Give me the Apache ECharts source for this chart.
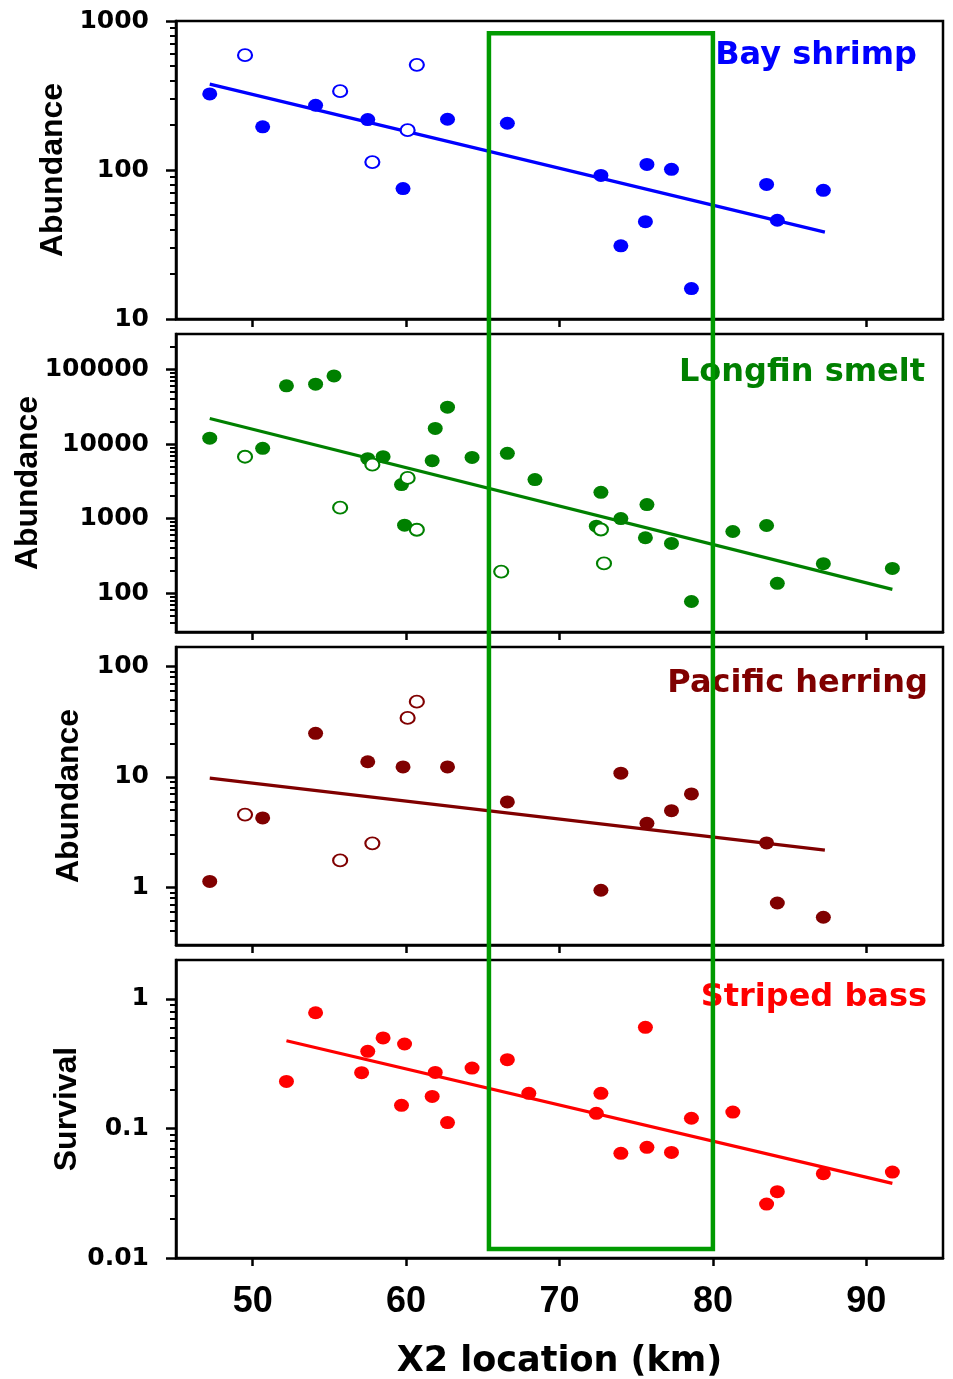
<!DOCTYPE html>
<html>
<head>
<meta charset="utf-8">
<script src="https://cdn.jsdelivr.net/npm/echarts@6/dist/echarts.min.js"></script>
<style>
  html, body { margin: 0; padding: 0; background: #fff; }
  #chart { width: 953px; height: 1379px; }
</style>
</head>
<body>
<div id="chart"></div>
<script>
// x axis (X2 location, km)
const xTicks = [50, 60, 70, 80, 90];

// Bay shrimp
const shrimpFilled = [[47.2, 324], [50.65, 195], [54.1, 272], [57.5, 218], [59.8, 75], [62.7, 219],
  [66.6, 206], [72.7, 92], [75.7, 109], [77.3, 101], [75.6, 45], [74.0, 31], [78.6, 16],
  [83.5, 80], [87.2, 73], [84.2, 46]];
const shrimpOpen = [[49.5, 590], [55.7, 338], [57.8, 113], [60.1, 185], [60.7, 508]];
const shrimpFit = [[47.2, 377], [87.3, 38.3]];
const shrimpTicks = [10, 100, 1000];

// Longfin smelt
const smeltFilled = [[47.2, 12000], [50.65, 8750], [52.2, 60400], [54.1, 63700], [55.3, 82200],
  [57.5, 6370], [58.5, 6760], [59.7, 2860], [59.9, 815], [61.7, 5990], [61.9, 16200],
  [62.7, 31300], [64.3, 6620], [66.6, 7500], [68.4, 3330], [72.7, 2250], [75.7, 1540],
  [74.0, 1000], [72.4, 790], [75.6, 552], [77.3, 463], [78.6, 77], [81.3, 670], [83.5, 807],
  [84.2, 135], [87.2, 248], [91.7, 214]];
const smeltOpen = [[49.5, 6760], [55.7, 1400], [57.8, 5290], [60.1, 3510], [60.7, 707],
  [66.2, 194], [72.7, 713], [72.9, 250]];
const smeltFit = [[47.2, 22000], [91.7, 112]];
const smeltTicks = [100, 1000, 10000, 100000];

// Pacific herring
const herringFilled = [[47.2, 1.13], [50.65, 4.25], [54.1, 24.8], [57.5, 13.7], [59.8, 12.3],
  [62.7, 12.3], [66.6, 5.93], [74.0, 10.8], [72.7, 0.94], [75.7, 3.8], [77.3, 4.94],
  [78.6, 7.0], [83.5, 2.52], [84.2, 0.72], [87.2, 0.535]];
const herringOpen = [[49.5, 4.55], [55.7, 1.75], [57.8, 2.5], [60.1, 34.2], [60.7, 48]];
const herringFit = [[47.2, 9.75], [87.3, 2.17]];
const herringTicks = [1, 10, 100];

// Striped bass
const bassFilled = [[52.2, 0.231], [54.1, 0.783], [57.1, 0.270], [57.5, 0.394], [58.5, 0.50],
  [59.9, 0.449], [59.7, 0.151], [61.9, 0.271], [61.7, 0.177], [62.7, 0.111], [64.3, 0.293],
  [66.6, 0.340], [68.0, 0.187], [72.7, 0.187], [72.4, 0.131], [75.6, 0.604], [74.0, 0.0643],
  [75.7, 0.0715], [77.3, 0.0653], [78.6, 0.120], [81.3, 0.134], [83.5, 0.0261],
  [84.2, 0.0325], [87.2, 0.0448], [91.7, 0.0461]];
const bassOpen = [];
const bassFit = [[52.2, 0.476], [91.7, 0.0377]];
const bassTicks = [0.01, 0.1, 1];

// highlighted X2 range (km)
const boxKm = [65.4, 80];

const panels = [
  { name: 'Bay shrimp', yName: 'Abundance', color: '#0000ff', min: 10, max: 1000, ticks: shrimpTicks,
    filled: shrimpFilled, open: shrimpOpen, fit: shrimpFit, top: 21, nameGap: 107, titleTop: 35, titleRight: 31 },
  { name: 'Longfin smelt', yName: 'Abundance', color: '#008000', min: 30, max: 300000, ticks: smeltTicks,
    filled: smeltFilled, open: smeltOpen, fit: smeltFit, top: 334, nameGap: 132, titleTop: 352, titleRight: 23 },
  { name: 'Pacific herring', yName: 'Abundance', color: '#800000', min: 0.3, max: 150, ticks: herringTicks,
    filled: herringFilled, open: herringOpen, fit: herringFit, top: 647, nameGap: 91, titleTop: 663, titleRight: 20 },
  { name: 'Striped bass', yName: 'Survival', color: '#ff0000', min: 0.01, max: 2, ticks: bassTicks,
    filled: bassFilled, open: bassOpen, fit: bassFit, top: 960, nameGap: 93, titleTop: 977, titleRight: 21 }
];

const PANEL_H = 298;
const LEFT = 176, RIGHT = 10;

function minorTicks(min, max) {
  const out = [];
  let d = Math.pow(10, Math.floor(Math.log10(min)));
  while (d < max) {
    for (let k = 2; k <= 9; k++) {
      const v = +(k * d).toPrecision(6);
      if (v > min && v < max) out.push(v);
    }
    d = +(d * 10).toPrecision(6);
  }
  return out;
}

const labelFont = { fontFamily: 'DejaVu Sans', fontWeight: 'bold', fontSize: 25, color: '#000' };

const grid = [], xAxis = [], yAxis = [], series = [], title = [];

panels.forEach(function (p, i) {
  grid.push({ left: LEFT, right: RIGHT, top: p.top, height: PANEL_H, show: true,
    borderColor: '#000', borderWidth: 2.5, outerBoundsMode: 'none', containLabel: false });

  const last = i === panels.length - 1;
  xAxis.push({
    type: 'value', gridIndex: i, min: 45, max: 95,
    axisLine: { show: true, onZero: false, lineStyle: { color: '#000', width: 2.5 } },
    axisTick: { show: true, length: 8, customValues: xTicks, lineStyle: { color: '#000', width: 2.5 } },
    axisLabel: { show: last, customValues: xTicks, margin: 26,
      fontFamily: 'Liberation Sans', fontWeight: 'bold', fontSize: 36, color: '#000' },
    splitLine: { show: false },
    name: last ? 'X2 location (km)' : '',
    nameLocation: 'middle', nameGap: 86, nameMoveOverlap: false,
    nameTextStyle: { fontFamily: 'DejaVu Sans', fontWeight: 'bold', fontSize: 35, color: '#000' }
  });

  // main log axis with major ticks and labels
  yAxis.push({
    type: 'log', logBase: 10, gridIndex: i, min: p.min, max: p.max,
    axisLine: { show: true, lineStyle: { color: '#000', width: 2.5 } },
    axisTick: { show: true, length: 10, customValues: p.ticks, lineStyle: { color: '#000', width: 2.5 } },
    axisLabel: Object.assign({ customValues: p.ticks, margin: 27,
      formatter: function (v) { return String(+(+v).toPrecision(6)); } }, labelFont),
    splitLine: { show: false },
    name: p.yName, nameLocation: 'middle', nameRotate: 90, nameGap: p.nameGap, nameMoveOverlap: false,
    nameTextStyle: { fontFamily: 'Liberation Sans', fontWeight: 'bold', fontSize: 32, color: '#000' }
  });

  title.push({
    text: p.name, top: p.titleTop, right: p.titleRight,
    textStyle: { fontFamily: 'DejaVu Sans', fontWeight: 'bold', fontSize: 32, color: p.color }
  });

  series.push({
    type: 'line', xAxisIndex: i, yAxisIndex: i, data: p.fit, symbol: 'none', z: 2,
    lineStyle: { color: p.color, width: 3.2 }
  });
  series.push({
    type: 'scatter', xAxisIndex: i, yAxisIndex: i, data: p.filled, symbol: 'circle',
    symbolSize: [15, 13], z: 3, itemStyle: { color: p.color, opacity: 1 }
  });
  series.push({
    type: 'scatter', xAxisIndex: i, yAxisIndex: i, data: p.open, symbol: 'circle',
    symbolSize: [14, 12], z: 4, itemStyle: { color: '#fff', borderColor: p.color, borderWidth: 2, opacity: 1 }
  });
});

// minor ticks: second log axis per panel
panels.forEach(function (p, i) {
  yAxis.push({
    type: 'log', logBase: 10, gridIndex: i, min: p.min, max: p.max, position: 'left',
    axisLine: { show: false },
    axisTick: { show: true, length: 6, customValues: minorTicks(p.min, p.max), lineStyle: { color: '#000', width: 2 } },
    axisLabel: { show: false },
    splitLine: { show: false }
  });
});

// overlay grid spanning all panels for the highlighted X2 range
const overlay = panels.length;
grid.push({ left: LEFT, right: RIGHT, top: panels[0].top, bottom: 1379 - (panels[3].top + PANEL_H),
  show: false, outerBoundsMode: 'none', containLabel: false });
xAxis.push({ type: 'value', gridIndex: overlay, min: 45, max: 95, show: false });
yAxis.push({ type: 'value', gridIndex: overlay, min: 0, max: 1, show: false });
const boxTop = 0.99, boxBottom = 0.0073;
series.push({
  type: 'line', xAxisIndex: overlay, yAxisIndex: yAxis.length - 1, symbol: 'none', z: 6,
  data: [[boxKm[0], boxTop], [boxKm[1], boxTop], [boxKm[1], boxBottom], [boxKm[0], boxBottom], [boxKm[0], boxTop]],
  lineStyle: { color: '#009a00', width: 4.5, join: 'miter', cap: 'square' }
});

const chart = echarts.init(document.getElementById('chart'));
chart.setOption({
  animation: false,
  backgroundColor: '#fff',
  title: title,
  grid: grid,
  xAxis: xAxis,
  yAxis: yAxis,
  series: series
});
</script>
</body>
</html>
